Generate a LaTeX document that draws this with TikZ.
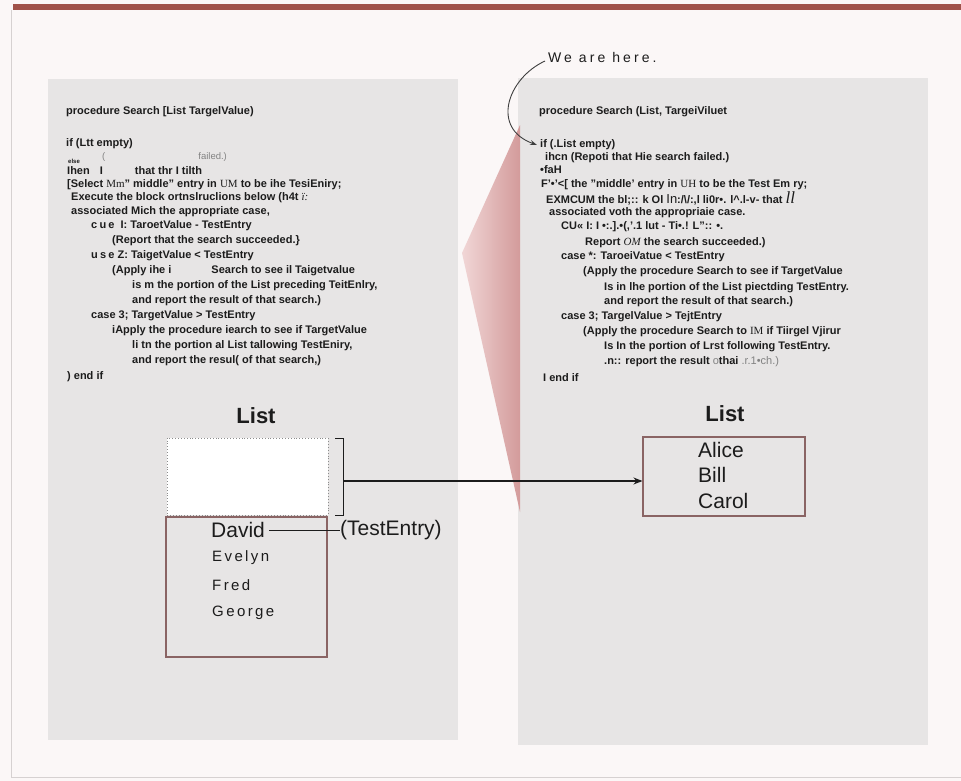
\documentclass[tikz,border=0pt]{standalone}
\usepackage{fontspec}
\setmainfont{Liberation Sans}
\newfontfamily\serifcode{Liberation Serif}
\usetikzlibrary{arrows.meta, positioning}
\definecolor{pagebg}{HTML}{FBF7F7}
\definecolor{panelgray}{HTML}{E7E5E5}
\definecolor{barred}{HTML}{A0524A}
\definecolor{frameline}{HTML}{D6D1D1}
\definecolor{boxbrown}{HTML}{8A6464}
\definecolor{dotgray}{HTML}{8C8C8C}
\definecolor{codeink}{HTML}{1C1C1C}
\definecolor{wedgelight}{HTML}{F1D6D6}
\definecolor{wedgedark}{HTML}{D39B9B}

\begin{document}
\begin{tikzpicture}[x=1bp, y=-1bp,
  >={Stealth[length=9bp, width=7bp]},
  codeline/.style={anchor=west, inner sep=0pt, text=codeink,
                   font=\fontsize{11bp}{13bp}\selectfont\bfseries},
  faintline/.style={anchor=west, inner sep=0pt, text=codeink!55,
                    font=\fontsize{9.5bp}{11bp}\selectfont},
  listhead/.style={inner sep=0pt, text=codeink, font=\fontsize{22bp}{24bp}\selectfont\bfseries},
  bigname/.style={anchor=west, inner sep=0pt, text=codeink, font=\fontsize{21bp}{23bp}\selectfont},
  smallname/.style={anchor=west, inner sep=0pt, text=codeink,
                    font=\fontsize{15bp}{17bp}\selectfont\addfontfeature{LetterSpace=16}},
  listbox/.style={draw=boxbrown, line width=1.1pt, inner sep=0pt},
]

% Background
\useasboundingbox (0,0) rectangle (961,781);
\fill[pagebg] (0,0) rectangle (961,781);
\fill[barred] (13,4) rectangle (961,10);
\draw[frameline, line width=0.8pt] (11,10) -- (11,777) -- (961,777);

% Panels
\fill[panelgray] (48,79) rectangle (458,740);
\fill[panelgray] (518,78) rectangle (928,745);

% Wedge joining the two pages
\shade[left color=wedgelight, right color=wedgedark] (520,125) -- (462,253) -- (520,512) -- cycle;

% ============ Left panel: code ============
\node[codeline] (lproc) at (66,112) {procedure Search [List TargelValue)};
\node[codeline] (lif)   at (66,144) {if (Ltt empty)};
\node[faintline] (lfail) at (102,157) {(\hspace{93bp}failed.)};
\node[anchor=west, inner sep=0pt, text=codeink, font=\fontsize{6bp}{7bp}\selectfont\bfseries] (lelse) at (68,161) {else};
\node[codeline] (lthen) at (67,171) {Ihen\hspace{10bp}I\hspace{32bp}that thr I tilth};
\node[codeline] (lsel)  at (67,185) {[Select {\serifcode\mdseries Mm}" middle" entry in {\serifcode\mdseries UM} to be ihe TesiEniry;};
\node[codeline] (lexe)  at (71,198) {Execute the block ortnslruclions below (h4t {\serifcode\mdseries\itshape ï:}};
\node[codeline] (lass)  at (71,212) {associated Mich the appropriate case,};
\node[codeline] (lc1)   at (91,226) {{\addfontfeature{LetterSpace=20}cue}\ \ I: TaroetValue - TestEntry};
\node[codeline] (lr1)   at (112,241) {(Report that the search succeeded.\}};
\node[codeline] (lc2)   at (91,256) {{\addfontfeature{LetterSpace=20}use} Z: TaigetValue < TestEntry};
\node[codeline] (la2)   at (112,271) {(Apply ihe i\hspace{40bp}Search to see il Taigetvalue};
\node[codeline] (lb2)   at (132,286) {is m the portion of the List preceding TeitEnlry,};
\node[codeline] (ld2)   at (132,301) {and report the result of that search.)};
\node[codeline] (lc3)   at (91,316) {case 3; TargetValue > TestEntry};
\node[codeline] (la3)   at (112,331) {iApply the procedure iearch to see if TargetValue};
\node[codeline] (lb3)   at (132,346) {li tn the portion al List tallowing TestEniry,};
\node[codeline] (ld3)   at (132,361) {and report the resul( of that search,)};
\node[codeline] (lend)  at (67,377) {) end if};

% ============ Right panel: code ============
\node[codeline] (rproc) at (539,112) {procedure Search (List, TargeiViluet};
\node[codeline] (rif)   at (540,145) {if (.List empty)};
\node[codeline] (rthen) at (545,158) {ihcn (Repoti that Hie search failed.)};
\node[codeline] (relse) at (540,170) {•faH};
\node[codeline] (rsel)  at (541,185) {F'•'<[ the "middle' entry in {\serifcode\mdseries UH} to be the Test Em ry;};
\node[codeline] (rexe)  at (546,198) {EXMCUM the bl;:: k Ol {\mdseries\fontsize{13bp}{14bp}\selectfont In}:/\textbackslash/:,l li0r•. l\textasciicircum.l-v- that {\serifcode\mdseries\itshape\fontsize{17bp}{17bp}\selectfont ll}};
\node[codeline] (rass)  at (549,213) {associated voth the appropriaie case.};
\node[codeline] (rc1)   at (561,227) {CU« I: I •:.].•(,'.1 lut - Ti•.! L'':: •.};
\node[codeline] (rr1)   at (585,243) {Report {\serifcode\mdseries\itshape OM} the search succeeded.)};
\node[codeline] (rc2)   at (561,257) {case *: TaroeiVatue < TestEntry};
\node[codeline] (ra2)   at (583,272) {(Apply the procedure Search to see if TargetValue};
\node[codeline] (rb2)   at (604,288) {Is in lhe portion of the List piectding TestEntry.};
\node[codeline] (rd2)   at (604,302) {and report the result of that search.)};
\node[codeline] (rc3)   at (561,317) {case 3; TargelValue > TejtEntry};
\node[codeline] (ra3)   at (583,332) {(Apply the procedure Search to {\serifcode\mdseries IM} if Tiirgel Vjirur};
\node[codeline] (rb3)   at (604,347) {Is In the portion of Lrst following TestEntry.};
\node[codeline] (rd3)   at (604,362) {.n:: report the result {\mdseries\color{codeink!55}o}thai {\mdseries\color{codeink!55}.r.1•ch.)}};
\node[codeline] (rend)  at (543,378) {I end if};

% Pointer label
\node[anchor=west, inner sep=0pt, text=codeink,
      font=\fontsize{14bp}{16bp}\selectfont\addfontfeature{LetterSpace=22}] (here) at (548,57) {We are here.};
\draw[codeink!85, line width=0.9pt, -{Stealth[length=7bp, width=5bp]}]
  ([xshift=-3bp, yshift=-4bp]here.west) .. controls (508,78) and (490,128) .. ([xshift=-3bp]rif.west);

% ============ Left list ============
\node[listhead] (llist) at (256,416) {List};
\node[draw=dotgray, dotted, line width=0.9pt, fill=white, inner sep=0pt,
      minimum width=161bp, minimum height=77bp] (emptybox) at (247.5,476.5) {};
\node[listbox, fill=panelgray, minimum width=161bp, minimum height=140bp] (lowbox) at (246.5,587) {};
\draw[codeink, line width=1pt] (335,438) -- (343,438) -- (343,515) -- (335,515);
\coordinate (brk) at (343,481);

\node[bigname] (david) at (211,530) {David};
\node[bigname] (testentry) at (340,530) {(TestEntry)};
\draw[codeink, line width=1pt] ([xshift=4bp]david.east) -- (testentry.west);
\node[smallname] (evelyn) at (212,558) {Evelyn};
\node[smallname] (fred)   at (212,585) {Fred};
\node[smallname] (george) at (212,613) {George};

% ============ Right list ============
\node[listhead] (rlist) at (725,414) {List};
\node[listbox, fill=panelgray, minimum width=162bp, minimum height=79bp] (rbox) at (724,476.5) {};
\node[bigname] (alice) at (698,450) {Alice};
\node[bigname] (bill)  at (698,475) {Bill};
\node[bigname] (carol) at (698,501) {Carol};

% Connector from the empty half to the right list
\draw[codeink, line width=1.1pt, ->] (brk) -- (brk -| rbox.west);

\end{tikzpicture}
\end{document}
